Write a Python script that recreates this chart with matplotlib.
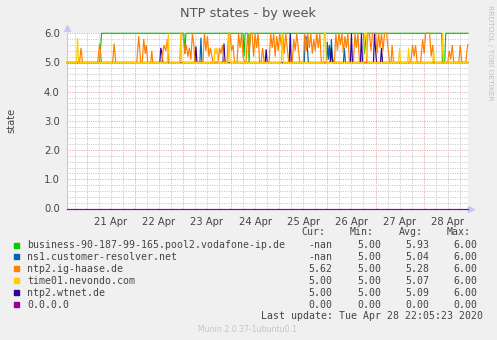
import matplotlib
matplotlib.use("Agg")
import matplotlib.pyplot as plt
import numpy as np

# time axis: hours since 20 Apr 2020 00:00
t_start = 14.1
t_end = 214.1
day_bounds = [24, 48, 72, 96, 120, 144, 168, 192]
day_labels = ["21 Apr", "22 Apr", "23 Apr", "24 Apr", "25 Apr", "26 Apr", "27 Apr", "28 Apr"]
y_ticks = [0.0, 1.0, 2.0, 3.0, 4.0, 5.0, 6.0]

# business-90-187-99-165.pool2.vodafone-ip.de
green_t = [14.1, 30.5, 31.5, 72.5, 73.0, 73.5, 102.0, 102.5, 103.0, 104.5, 105.0, 105.5,
           162.0, 162.5, 163.5, 201.0, 201.5, 202.5, 203.0, 214.1]
green_v = [5.0, 5.0, 6.0, 6.0, 5.3, 6.0, 6.0, 5.2, 6.0, 6.0, 5.0, 6.0,
           6.0, 5.3, 6.0, 6.0, 5.0, 5.0, 6.0, 6.0]

# ns1.customer-resolver.net
blue_t = [14.1, 80.5, 81.0, 81.5, 132.5, 133.0, 133.75, 134.5, 143.5, 144.0, 144.5, 145.0,
          145.5, 146.0, 146.5, 147.0, 152.0, 152.5, 153.0, 214.1]
blue_v = [5.0, 5.0, 5.85, 5.0, 5.0, 5.9, 5.85, 5.0, 5.0, 5.7, 5.1, 5.6,
          5.0, 5.8, 5.2, 5.0, 5.0, 5.5, 5.0, 5.0]

# ntp2.ig-haase.de
orange_t = [14.1, 20.5, 21.25, 22.0, 29.5, 30.5, 31.5, 37.0, 37.75, 38.5,
            49.0, 50.0, 51.0, 51.75, 52.5, 53.25, 53.75, 54.5, 56.0, 56.5, 57.0,
            61.5, 62.5, 63.5, 64.25, 65.0,
            70.5, 71.0, 72.0, 73.0, 73.75, 74.5, 75.25, 76.0, 76.75, 77.5, 78.0,
            82.0, 82.75, 83.5, 84.25, 85.0, 85.75, 86.5, 87.0,
            89.5, 90.25, 91.0, 91.75, 92.5,
            94.0, 94.75, 95.5, 96.25, 97.0, 97.75,
            99.0, 99.75, 100.5, 101.25, 102.0, 102.75,
            103.5, 104.25, 105.0, 105.75, 106.5, 107.25, 108.0, 108.75, 109.5, 110.25,
            111.0, 111.75, 112.5,
            115.0, 115.75, 116.5, 117.25, 118.0, 118.75, 119.5, 120.25, 121.0, 121.75,
            122.5, 123.25, 124.0, 124.75,
            126.5, 127.25, 128.0, 128.75, 129.5, 130.25,
            132.0, 132.75, 133.5, 134.25, 135.0, 135.75, 136.5, 137.25, 138.0, 138.75,
            139.5, 140.25, 141.0,
            147.5, 148.25, 149.0, 149.75, 150.5, 151.25, 152.0, 152.75, 153.5, 154.25, 155.0,
            157.0, 157.75, 158.5, 159.25, 160.0,
            163.5, 164.25, 165.0, 165.75, 166.5, 168.0, 168.75, 169.5, 170.25, 171.0,
            171.75, 172.5, 173.5, 174.25, 175.0,
            175.75, 176.25, 177.0,
            185.5, 186.5, 187.25, 188.0, 188.75,
            190.5, 191.5, 192.25, 193.0, 195.0, 195.75, 196.5, 197.25,
            204.0, 204.75, 205.5, 206.25, 207.0,
            209.5, 210.25, 211.0,
            213.0, 213.75, 214.1]
orange_v = [5.0, 5.0, 5.5, 5.0, 5.0, 5.65, 5.0, 5.0, 5.65, 5.0,
            5.0, 5.9, 5.0, 5.0, 5.8, 5.3, 5.6, 5.0, 5.0, 5.4, 5.0,
            5.0, 5.6, 5.4, 5.8, 5.0,
            5.0, 6.0, 6.0, 5.3, 5.6, 5.2, 5.5, 5.1, 6.0, 5.6, 5.0,
            5.0, 6.0, 5.4, 5.9, 5.2, 5.5, 5.2, 5.0,
            5.0, 5.5, 5.3, 5.6, 5.0,
            5.0, 6.0, 6.0, 5.4, 5.6, 5.0,
            5.0, 6.0, 5.5, 6.0, 5.2, 5.0,
            5.0, 6.0, 5.3, 6.0, 6.0, 5.2, 6.0, 5.5, 6.0, 5.0,
            5.0, 5.5, 5.0,
            5.0, 6.0, 5.5, 6.0, 5.2, 5.9, 5.4, 6.0, 5.6, 6.0,
            5.3, 6.0, 5.5, 5.0,
            5.0, 5.8, 5.4, 6.0, 5.5, 5.0,
            5.0, 6.0, 5.4, 6.0, 5.5, 6.0, 5.3, 5.8, 5.4, 6.0,
            5.5, 6.0, 5.0,
            5.0, 6.0, 5.4, 6.0, 5.6, 6.0, 5.3, 5.9, 5.5, 6.0, 5.0,
            5.0, 6.0, 5.5, 6.0, 5.0,
            5.0, 6.0, 6.0, 5.4, 6.0, 6.0, 5.3, 6.0, 5.5, 6.0,
            5.4, 6.0, 6.0, 5.5, 5.0,
            5.0, 5.6, 5.0,
            5.0, 5.6, 5.2, 5.6, 5.0,
            5.0, 5.8, 5.3, 6.0, 6.0, 5.2, 5.6, 5.0,
            5.0, 5.4, 5.1, 5.6, 5.0,
            5.0, 5.6, 5.0,
            5.0, 5.5, 5.62]

# time01.nevondo.com
yellow_t = [14.1, 19.0, 19.5, 20.0, 64.25, 64.75, 65.25, 70.5, 71.0, 71.5,
            87.5, 88.0, 88.5, 89.0, 89.5, 94.5, 95.0, 95.5, 121.0, 121.5, 122.0,
            142.0, 142.5, 143.0, 143.5, 162.0, 162.5, 163.5, 164.0,
            179.5, 180.0, 180.5, 184.0, 184.5, 185.0, 196.5, 197.0, 197.5,
            201.0, 201.5, 202.0, 214.1]
yellow_v = [5.0, 5.0, 5.85, 5.0, 5.0, 6.0, 5.0, 5.0, 6.0, 5.0,
            5.0, 5.5, 5.3, 5.5, 5.0, 5.0, 6.0, 5.0, 5.0, 6.0, 5.0,
            5.0, 6.0, 6.0, 5.0, 5.0, 6.0, 6.0, 5.0,
            5.0, 5.5, 5.0, 5.0, 5.5, 5.0, 5.0, 5.4, 5.0,
            5.0, 6.0, 5.0, 5.0]

# ntp2.wtnet.de
indigo_t = [14.1, 60.5, 61.0, 61.5, 62.0, 78.0, 78.5, 79.0, 92.0, 92.5, 93.0,
            113.0, 113.5, 114.0, 125.0, 125.5, 126.0, 145.5, 146.0, 146.5,
            155.5, 156.0, 156.5, 160.5, 161.0, 161.5, 167.0, 167.5, 168.0, 168.5,
            170.5, 171.0, 171.5, 214.1]
indigo_v = [5.0, 5.0, 5.5, 5.35, 5.0, 5.0, 5.55, 5.0, 5.0, 5.65, 5.0,
            5.0, 5.45, 5.0, 5.0, 6.0, 5.0, 5.0, 5.5, 5.0,
            5.0, 6.0, 5.0, 5.0, 6.0, 5.0, 5.0, 6.0, 5.5, 5.0,
            5.0, 5.5, 5.0, 5.0]

# 0.0.0.0
zero_t = [t_start, t_end]
zero_v = [0.0, 0.0]

names = ["business-90-187-99-165.pool2.vodafone-ip.de", "ns1.customer-resolver.net",
         "ntp2.ig-haase.de", "time01.nevondo.com", "ntp2.wtnet.de", "0.0.0.0"]
colors = ["#00cc00", "#0066b3", "#ff8000", "#ffcc00", "#330099", "#990099"]
cur_vals = ["-nan", "-nan", "5.62", "5.00", "5.00", "0.00"]
min_vals = ["5.00", "5.00", "5.00", "5.00", "5.00", "0.00"]
avg_vals = ["5.93", "5.04", "5.28", "5.07", "5.09", "0.00"]
max_vals = ["6.00", "6.00", "6.00", "6.00", "6.00", "0.00"]

W, H = 497, 340
BG = "#f0f0f0"
TXT = "#444444"
AXIS = "#c8c8f4"
GRID_MINOR = "#c4c4c4"
GRID_MAJOR = "#eaa0a0"


def fx(x):
    return x / W


def fy(y):
    return 1 - y / H


fig = plt.figure(figsize=(W / 100, H / 100), dpi=100, facecolor=BG)
ax = fig.add_axes([fx(66.7), fy(208.5), fx(468) - fx(66.7), fy(33.3) - fy(208.5)])
ax.set_facecolor("white")
ax.set_xlim(t_start, t_end)
ax.set_ylim(0, 6)

# grid
dot = (0, (1.4, 1.4))
for t in np.arange(6, t_end, 6):
    if t < t_start:
        continue
    major = t % 24 == 0
    ax.axvline(t, color=GRID_MAJOR if major else GRID_MINOR, lw=0.6, ls=dot, zorder=0)
for v in np.arange(0.2, 6.01, 0.2):
    major = abs(v - round(v)) < 1e-6
    ax.axhline(v, color=GRID_MAJOR if major else GRID_MINOR, lw=0.6, ls=dot, zorder=0)

series = [(green_t, green_v, 2), (blue_t, blue_v, 3), (indigo_t, indigo_v, 3.5),
          (orange_t, orange_v, 4), (yellow_t, yellow_v, 5), (zero_t, zero_v, 6)]
order = [0, 1, 4, 2, 3, 5]
for (t, v, z), idx in zip(series, order):
    ax.plot(t, v, color=colors[idx], lw=0.85, zorder=z, clip_on=False,
            solid_joinstyle="miter")

for s in ["top", "right"]:
    ax.spines[s].set_visible(False)
for s in ["left", "bottom"]:
    ax.spines[s].set_color(AXIS)
    ax.spines[s].set_linewidth(0.8)
ax.plot([1.008], [0], marker=">", ms=4, color=AXIS, transform=ax.transAxes, clip_on=False)
ax.plot([0], [1.03], marker="^", ms=4, color=AXIS, transform=ax.transAxes, clip_on=False)

ax.set_yticks(y_ticks)
ax.set_yticklabels([f"{v:.1f}" for v in y_ticks])
ax.set_xticks([d + 12 for d in day_bounds])
ax.set_xticklabels(day_labels)
ax.tick_params(axis="both", length=0, labelsize=7.2, colors=TXT, pad=5)
ax.tick_params(axis="x", pad=6)

fig.text(fx(248), fy(13), "NTP states - by week", ha="center", va="center",
         fontsize=9.3, color="#555555")
fig.text(fx(11), fy(120), "state", rotation=90, ha="center", va="center",
         fontsize=7.2, color=TXT)
fig.text(fx(490), fy(5), "RRDTOOL / TOBI OETIKER", rotation=270, ha="center", va="top",
         fontsize=5.4, color="#c0c0c0")

# legend
mono = dict(family="DejaVu Sans Mono", fontsize=7.1, color=TXT, va="center")
fig.text(fx(325), fy(232.3), "Cur:", ha="right", **mono)
fig.text(fx(374), fy(232.3), "Min:", ha="right", **mono)
fig.text(fx(423), fy(232.3), "Avg:", ha="right", **mono)
fig.text(fx(471), fy(232.3), "Max:", ha="right", **mono)
for i, name in enumerate(names):
    y = 245 + i * 11.95
    fig.patches.append(plt.Rectangle((fx(14), fy(y + 2.5)), fx(5), fy(0) - fy(5),
                                     transform=fig.transFigure, color=colors[i]))
    fig.text(fx(27), fy(y), name, ha="left", **mono)
    fig.text(fx(332), fy(y), cur_vals[i], ha="right", **mono)
    fig.text(fx(381), fy(y), min_vals[i], ha="right", **mono)
    fig.text(fx(429), fy(y), avg_vals[i], ha="right", **mono)
    fig.text(fx(477), fy(y), max_vals[i], ha="right", **mono)
fig.text(fx(483), fy(316.3), "Last update: Tue Apr 28 22:05:23 2020", ha="right", **mono)
fig.text(fx(248), fy(329.5), "Munin 2.0.37-1ubuntu0.1", ha="center", va="center",
         fontsize=5.6, color="#c4c4c4")

fig.savefig("out.png", dpi=100, facecolor=BG)
plt.close(fig)
